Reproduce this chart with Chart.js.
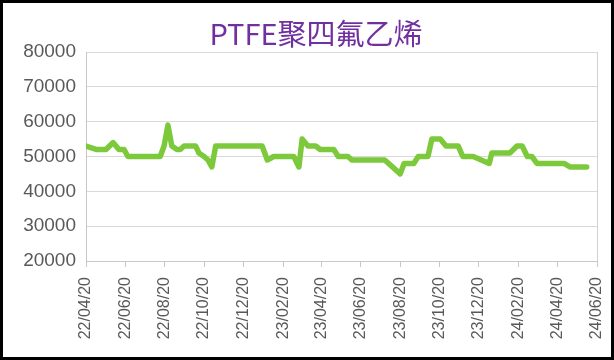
<!DOCTYPE html>
<html>
<head>
<meta charset="utf-8">
<script src="https://cdn.jsdelivr.net/npm/chart.js@4.4.0/dist/chart.umd.min.js"></script>
<style>
  body { margin: 0; background: #fff; }
  #frame { position: relative; width: 614px; height: 360px; box-sizing: border-box; border: 3px solid #000; background: #fff; }
  #title { position: absolute; left: 313px; top: 15px; transform: translateX(-50%); white-space: nowrap;
           font-family: "Noto Sans CJK SC", sans-serif; font-size: 29px; line-height: 1; color: #7030A0; }
  canvas { display: block; }
</style>
</head>
<body>
<div id="frame">
  <div id="title">PTFE聚四氟乙烯</div>
  <canvas id="ptfeChart" width="608" height="354"></canvas>
</div>
<script>
// price points (turning points of the weekly series)
const dates = [
  "2022-04-20", "2022-05-07", "2022-05-21", "2022-06-01", "2022-06-10", "2022-06-18", "2022-06-24",
  "2022-08-13", "2022-08-19", "2022-08-25", "2022-08-31", "2022-09-08", "2022-09-13", "2022-09-19",
  "2022-10-07", "2022-10-12", "2022-10-20", "2022-10-26", "2022-11-01", "2022-11-07",
  "2023-01-18", "2023-01-26", "2023-02-05", "2023-03-08", "2023-03-16", "2023-03-21", "2023-03-30",
  "2023-04-11", "2023-04-18", "2023-05-09", "2023-05-16", "2023-05-31", "2023-06-06", "2023-07-27",
  "2023-08-20", "2023-08-26", "2023-09-10", "2023-09-17", "2023-10-02", "2023-10-08", "2023-10-21",
  "2023-10-30", "2023-11-18", "2023-11-25", "2023-12-11", "2024-01-05", "2024-01-09", "2024-02-06",
  "2024-02-17", "2024-02-25", "2024-03-04", "2024-03-11", "2024-03-19", "2024-04-30", "2024-05-09",
  "2024-06-04"
];
const prices = [
  53000, 52000, 52000, 54000, 52000, 52000, 50000,
  50000, 53000, 59000, 53000, 52000, 52000, 53000,
  53000, 51000, 50000, 49000, 47000, 53000,
  53000, 49000, 50000, 50000, 47000, 55000, 53000,
  53000, 52000, 52000, 50000, 50000, 49000, 49000,
  45000, 48000, 48000, 50000, 50000, 55000, 55000,
  53000, 53000, 50000, 50000, 48000, 51000, 51000,
  53000, 53000, 50000, 50000, 48000, 48000, 47000,
  47000
];
const tickLabels = [
  "22/04/20", "22/06/20", "22/08/20", "22/10/20", "22/12/20", "23/02/20", "23/04/20",
  "23/06/20", "23/08/20", "23/10/20", "23/12/20", "24/02/20", "24/04/20", "24/06/20"
];

const DAY = 86400000;
const startTime = Date.parse("2022-04-20");
function dayOf(iso) {
  return Math.round((Date.parse(iso) - startTime) / DAY);
}
// "yy/mm/dd" -> day number
const tickDays = tickLabels.map(function (t) {
  const p = t.split("/");
  return dayOf("20" + p[0] + "-" + p[1] + "-" + p[2]);
});

const points = dates.map(function (d, i) {
  return { x: dayOf(d), y: prices[i] };
});

// right edge of the plot area
const plotFrame = {
  id: "plotFrame",
  beforeDatasetsDraw(chart) {
    const a = chart.chartArea;
    const g = chart.ctx;
    g.save();
    g.strokeStyle = "#D0D0D0";
    g.lineWidth = 1;
    g.beginPath();
    g.moveTo(Math.round(a.right) + 0.5, a.top);
    g.lineTo(Math.round(a.right) + 0.5, a.bottom);
    g.stroke();
    g.restore();
  }
};

const ctx = document.getElementById("ptfeChart").getContext("2d");
new Chart(ctx, {
  type: "line",
  data: {
    datasets: [{
      data: points,
      borderColor: "#7CC93C",
      borderWidth: 5.5,
      pointRadius: 0,
      tension: 0,
      borderJoinStyle: "round",
      borderCapStyle: "round"
    }]
  },
  options: {
    responsive: false,
    animation: false,
    layout: { padding: { top: 49, right: 14, left: 0, bottom: 0 } },
    plugins: {
      legend: { display: false },
      tooltip: { enabled: false }
    },
    scales: {
      x: {
        type: "linear",
        min: tickDays[0],
        max: tickDays[tickDays.length - 1],
        afterBuildTicks: function (scale) {
          scale.ticks = tickDays.map(function (v) { return { value: v }; });
        },
        afterFit: function (scale) {
          scale.height = 96;
          scale.paddingLeft = 0;
          scale.paddingRight = 0;
        },
        grid: { drawOnChartArea: false, tickLength: 6, color: "#C8C8C8" },
        border: { color: "#C8C8C8" },
        ticks: {
          autoSkip: false,
          minRotation: 90,
          maxRotation: 90,
          padding: 10,
          color: "#595959",
          font: { family: "Liberation Sans", size: 16 },
          callback: function (value, index) { return tickLabels[index]; }
        }
      },
      y: {
        min: 20000,
        max: 80000,
        afterFit: function (scale) { scale.width = 83; },
        grid: { color: "#D9D9D9", tickLength: 0 },
        border: { color: "#C8C8C8" },
        ticks: {
          stepSize: 10000,
          padding: 10,
          color: "#595959",
          font: { family: "Liberation Sans", size: 19 },
          callback: function (value) { return String(value); }
        }
      }
    }
  },
  plugins: [plotFrame]
});
</script>
</body>
</html>
